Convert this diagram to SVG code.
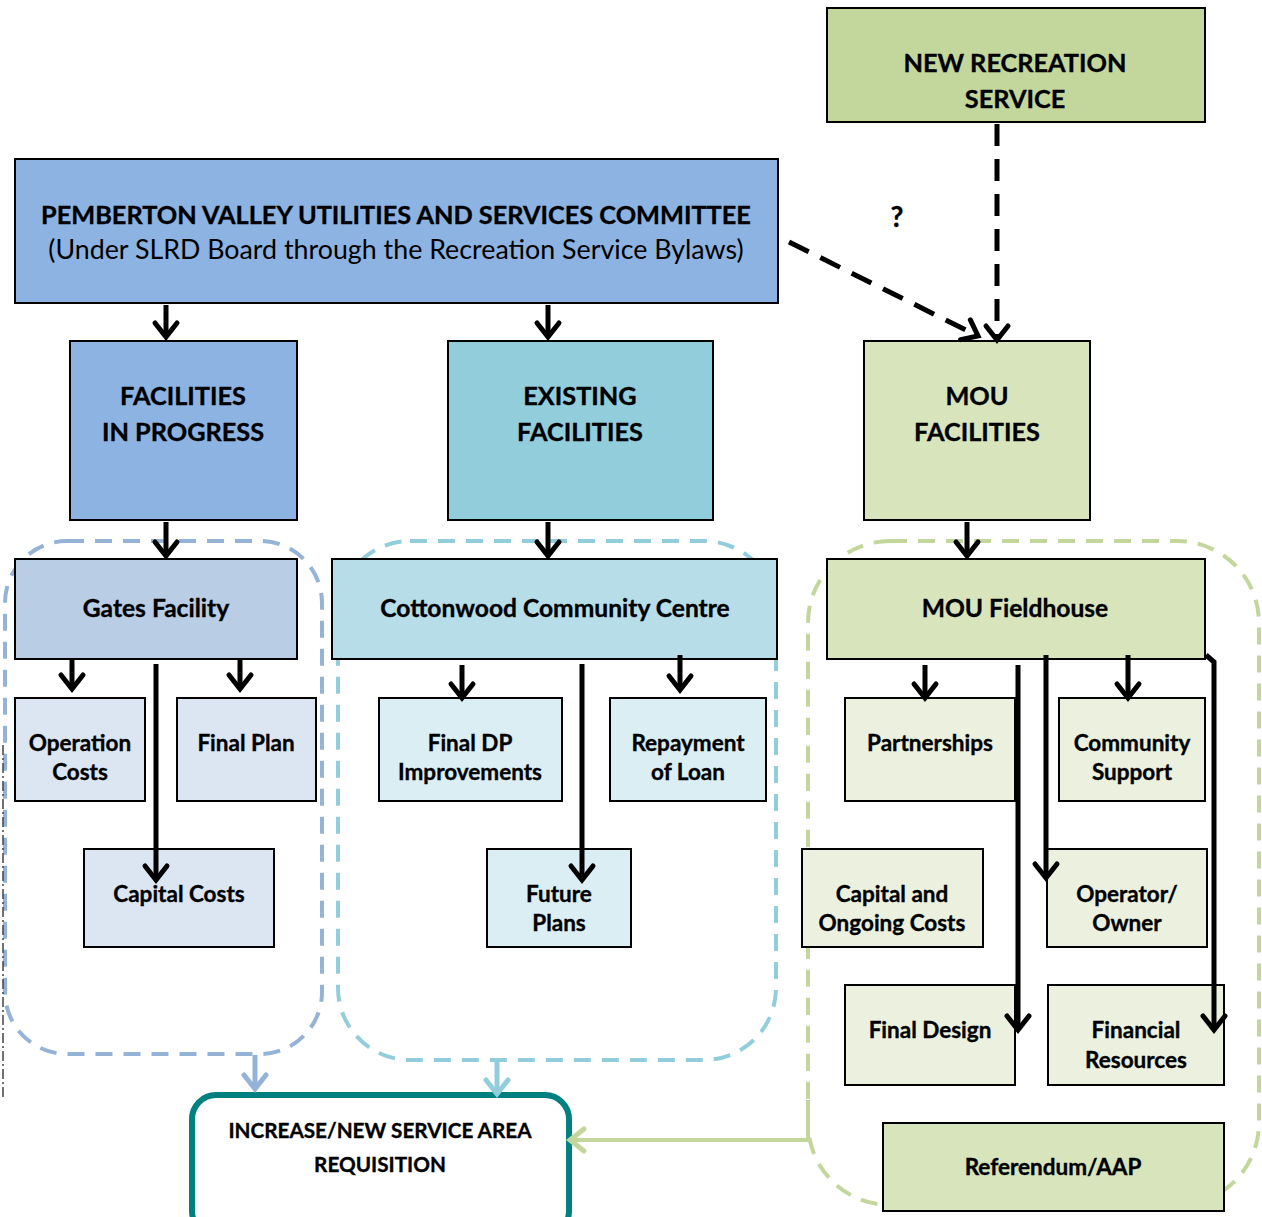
<svg xmlns="http://www.w3.org/2000/svg" width="1262" height="1217" viewBox="0 0 1262 1217">
<defs>
<style>
.t{font-family:Lato,"Liberation Sans",sans-serif;font-weight:bold;font-size:22.5px;fill:#000;stroke:#000;stroke-width:0.35;text-anchor:middle}
.h{font-size:24.6px}
.big{font-size:25.3px}
.tl{font-family:Lato,"Liberation Sans",sans-serif;font-size:26.8px;fill:#000;text-anchor:middle}
.box{stroke:#000;stroke-width:2}
.arr{fill:none;stroke:#000;stroke-width:5}
.dash{fill:none;stroke:#000;stroke-width:5;stroke-dasharray:22 13}
.grp{fill:none;stroke-width:4;stroke-dasharray:17 11}
</style>
<marker id="ah" markerUnits="userSpaceOnUse" viewBox="-20 -15 30 30" markerWidth="30" markerHeight="30" refX="0" refY="0" orient="auto">
<path d="M-14,-11 L0,0 L-14,11" fill="none" stroke="#000" stroke-width="5" stroke-linecap="round"/>
</marker>
<marker id="ahb" markerUnits="userSpaceOnUse" viewBox="-20 -15 30 30" markerWidth="30" markerHeight="30" refX="0" refY="0" orient="auto">
<path d="M-14,-11 L0,0 L-14,11" fill="none" stroke="#95b3d7" stroke-width="5" stroke-linecap="round"/>
</marker>
<marker id="ahc" markerUnits="userSpaceOnUse" viewBox="-20 -15 30 30" markerWidth="30" markerHeight="30" refX="0" refY="0" orient="auto">
<path d="M-14,-11 L0,0 L-14,11" fill="none" stroke="#92cddc" stroke-width="5" stroke-linecap="round"/>
</marker>
<marker id="ahg" markerUnits="userSpaceOnUse" viewBox="-20 -15 30 30" markerWidth="30" markerHeight="30" refX="0" refY="0" orient="auto">
<path d="M-14,-11 L0,0 L-14,11" fill="none" stroke="#c3d69b" stroke-width="5" stroke-linecap="round"/>
</marker>
</defs>
<rect width="1262" height="1217" fill="#fff"/>

<g id="group-left"><rect class="grp" x="5" y="541" width="317" height="513" rx="62" stroke="#95b3d7"/></g>
<g id="group-mid"><rect class="grp" x="338" y="541" width="438" height="519" rx="72" stroke="#92cddc"/></g>
<g id="group-right"><rect class="grp" x="808" y="541" width="451" height="664" rx="82" stroke="#c3d69b"/></g>
<line x1="3" y1="745" x2="3" y2="1100" stroke="#444" stroke-width="1.5" stroke-dasharray="10 3 2 3"/>

<g id="new-recreation-service">
<rect class="box" x="827" y="8" width="378" height="114" fill="#c3d69b"/>
<text class="t big" x="1015" y="72">NEW RECREATION</text>
<text class="t big" x="1015" y="108">SERVICE</text>
</g>
<g id="pvusc">
<rect class="box" x="15" y="159" width="763" height="144" fill="#8db3e2"/>
<text class="t big" x="396" y="224">PEMBERTON VALLEY UTILITIES AND SERVICES COMMITTEE</text>
<text class="tl" x="396" y="259">(Under SLRD Board through the Recreation Service Bylaws)</text>
</g>
<g id="q-label"><text class="t" x="897" y="227" style="font-size:28px">?</text></g>

<g id="facilities-in-progress">
<rect class="box" x="70" y="341" width="227" height="179" fill="#8db3e2"/>
<text class="t big" x="183" y="405">FACILITIES</text>
<text class="t big" x="183" y="441">IN PROGRESS</text>
</g>
<g id="existing-facilities">
<rect class="box" x="448" y="341" width="265" height="179" fill="#92cddc"/>
<text class="t big" x="580" y="405">EXISTING</text>
<text class="t big" x="580" y="441">FACILITIES</text>
</g>
<g id="mou-facilities">
<rect class="box" x="864" y="341" width="226" height="179" fill="#d7e4bc"/>
<text class="t big" x="977" y="405">MOU</text>
<text class="t big" x="977" y="441">FACILITIES</text>
</g>

<g id="gates-facility">
<rect class="box" x="15" y="559" width="282" height="100" fill="#b9cde5"/>
<text class="t h" x="156" y="617">Gates Facility</text>
</g>
<g id="operation-costs">
<rect class="box" x="15" y="698" width="130" height="103" fill="#dce6f2"/>
<text class="t" x="80" y="751">Operation</text>
<text class="t" x="80" y="780">Costs</text>
</g>
<g id="final-plan">
<rect class="box" x="177" y="698" width="139" height="103" fill="#dce6f2"/>
<text class="t" x="246" y="751">Final Plan</text>
</g>
<g id="capital-costs">
<rect class="box" x="84" y="849" width="190" height="98" fill="#dce6f2"/>
<text class="t" x="179" y="902">Capital Costs</text>
</g>

<g id="cottonwood">
<rect class="box" x="332" y="559" width="445" height="100" fill="#b7dee8"/>
<text class="t h" x="555" y="617">Cottonwood Community Centre</text>
</g>
<g id="final-dp">
<rect class="box" x="379" y="698" width="183" height="103" fill="#dbeef3"/>
<text class="t" x="470" y="751">Final DP</text>
<text class="t" x="470" y="780">Improvements</text>
</g>
<g id="repayment">
<rect class="box" x="610" y="698" width="156" height="103" fill="#dbeef3"/>
<text class="t" x="688" y="751">Repayment</text>
<text class="t" x="688" y="780">of Loan</text>
</g>
<g id="future-plans">
<rect class="box" x="487" y="849" width="144" height="98" fill="#dbeef3"/>
<text class="t" x="559" y="902">Future</text>
<text class="t" x="559" y="931">Plans</text>
</g>

<g id="mou-fieldhouse">
<rect class="box" x="827" y="559" width="378" height="100" fill="#d7e4bc"/>
<text class="t h" x="1015" y="617">MOU Fieldhouse</text>
</g>
<g id="partnerships">
<rect class="box" x="845" y="698" width="170" height="103" fill="#ebf1de"/>
<text class="t" x="930" y="751">Partnerships</text>
</g>
<g id="community-support">
<rect class="box" x="1059" y="698" width="146" height="103" fill="#ebf1de"/>
<text class="t" x="1132" y="751">Community</text>
<text class="t" x="1132" y="780">Support</text>
</g>
<g id="capital-ongoing">
<rect class="box" x="802" y="849" width="181" height="98" fill="#ebf1de"/>
<text class="t" x="892" y="902">Capital and</text>
<text class="t" x="892" y="931">Ongoing Costs</text>
</g>
<g id="operator-owner">
<rect class="box" x="1047" y="849" width="160" height="98" fill="#ebf1de"/>
<text class="t" x="1127" y="902">Operator/</text>
<text class="t" x="1127" y="931">Owner</text>
</g>
<g id="final-design">
<rect class="box" x="845" y="985" width="170" height="100" fill="#ebf1de"/>
<text class="t" x="930" y="1038">Final Design</text>
</g>
<g id="financial-resources">
<rect class="box" x="1048" y="985" width="176" height="100" fill="#ebf1de"/>
<text class="t" x="1136" y="1038">Financial</text>
<text class="t" x="1136" y="1068">Resources</text>
</g>
<g id="referendum">
<rect class="box" x="883" y="1123" width="341" height="88" fill="#d7e4bc"/>
<text class="t" x="1053" y="1175">Referendum/AAP</text>
</g>

<g id="increase-requisition">
<rect x="192" y="1095" width="377" height="140" rx="24" fill="#fff" stroke="#008080" stroke-width="6"/>
<text class="t" x="380" y="1138" style="font-size:20.7px">INCREASE/NEW SERVICE AREA</text>
<text class="t" x="380" y="1172" style="font-size:20.7px">REQUISITION</text>
</g>

<g id="connectors">
<line class="arr" x1="166" y1="305" x2="166" y2="337" marker-end="url(#ah)"/>
<line class="arr" x1="548" y1="305" x2="548" y2="337" marker-end="url(#ah)"/>
<line class="dash" x1="789" y1="242" x2="978" y2="336" marker-end="url(#ah)"/>
<line class="dash" x1="997" y1="124" x2="997" y2="340" marker-end="url(#ah)"/>
<line class="arr" x1="166" y1="522" x2="166" y2="556" marker-end="url(#ah)"/>
<line class="arr" x1="548" y1="522" x2="548" y2="556" marker-end="url(#ah)"/>
<line class="arr" x1="967" y1="522" x2="967" y2="556" marker-end="url(#ah)"/>
<line class="arr" x1="72" y1="660" x2="72" y2="689" marker-end="url(#ah)"/>
<line class="arr" x1="240" y1="660" x2="240" y2="689" marker-end="url(#ah)"/>
<line class="arr" x1="156" y1="664" x2="156" y2="880" marker-end="url(#ah)"/>
<line class="arr" x1="462" y1="665" x2="462" y2="698" marker-end="url(#ah)"/>
<line class="arr" x1="680" y1="655" x2="680" y2="690" marker-end="url(#ah)"/>
<line class="arr" x1="582" y1="664" x2="582" y2="880" marker-end="url(#ah)"/>
<line class="arr" x1="925" y1="665" x2="925" y2="698" marker-end="url(#ah)"/>
<line class="arr" x1="1128" y1="655" x2="1128" y2="698" marker-end="url(#ah)"/>
<line class="arr" x1="1018" y1="665" x2="1018" y2="1030" marker-end="url(#ah)"/>
<line class="arr" x1="1046" y1="655" x2="1046" y2="878" marker-end="url(#ah)"/>
<polyline class="arr" points="1206,655 1214,662 1214,1030" marker-end="url(#ah)"/>
<line x1="255" y1="1055" x2="255" y2="1089" stroke="#95b3d7" stroke-width="5" marker-end="url(#ahb)"/>
<line x1="497" y1="1060" x2="497" y2="1094" stroke="#92cddc" stroke-width="5" marker-end="url(#ahc)"/>
<polyline points="808,1100 808,1140 570,1140" fill="none" stroke="#c3d69b" stroke-width="4" marker-end="url(#ahg)"/>
</g>
</svg>
